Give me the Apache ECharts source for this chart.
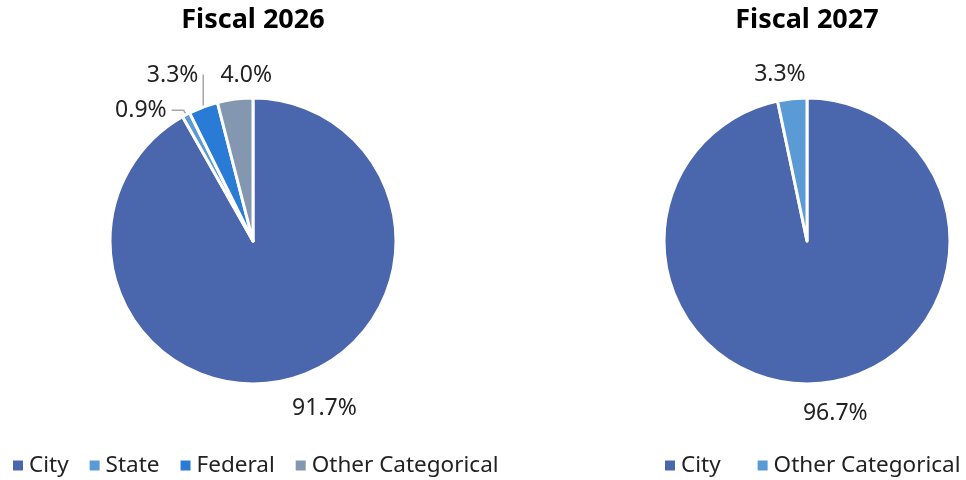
<!DOCTYPE html>
<html>
<head>
<meta charset="utf-8">
<script src="https://cdn.jsdelivr.net/npm/echarts@6/dist/echarts.min.js"></script>
<style>
  html, body { margin: 0; padding: 0; background: #fff; }
  #main { width: 966px; height: 480px; }
</style>
</head>
<body>
<div id="main"></div>
<script>
// data
var titles = ['Fiscal 2026', 'Fiscal 2027'];
var names2026 = ['City', 'State', 'Federal', 'Other Categorical'];
var values2026 = [91.7, 0.9, 3.3, 4.0];
var names2027 = ['City', 'Other Categorical'];
var values2027 = [96.7, 3.3];

var font = '"Noto Sans", sans-serif';
var colors2026 = ['#4a66ac', '#5b9bd5', '#2a7bd6', '#8497b0'];
var colors2027 = ['#4a66ac', '#5b9bd5'];
// label line tuning per slice: [length, length2, showLine]
var lines2026 = [[30, -10, false], [5, 12, true], [34, -12, true], [24, -45, false]];
var lines2027 = [[30, -27, false], [24, -21, false]];

function buildData(names, values, colors, lines){
	var out = [];
	for(var i=0;i<names.length;i++){
		out.push({
			name: names[i],
			value: values[i],
			itemStyle: { color: colors[i] },
			labelLine: {
				show: lines[i][2],
				length: lines[i][0],
				length2: lines[i][1]
			}
		});
	}
	return out;
}

function pieSeries(center, data){
	return {
		type: 'pie',
		center: center,
		radius: 143,
		startAngle: 90,
		clockwise: true,
		avoidLabelOverlap: false,
		animation: false,
		itemStyle: { borderColor: '#fff', borderWidth: 3 },
		label: {
			show: true,
			position: 'outside',
			formatter: function(p){ return p.value.toFixed(1) + '%'; },
			color: '#222',
			fontFamily: font,
			fontSize: 23
		},
		labelLine: {
			lineStyle: { color: '#a6a6a6', width: 1.5 },
			smooth: false
		},
		data: data
	};
}

function legendOf(left, gap, names, colors){
	return {
		left: left, top: 454, padding: 0,
		icon: 'rect', itemWidth: 12, itemHeight: 12, itemGap: gap,
		textStyle: { fontFamily: font, fontSize: 22.5, color: '#222' },
		data: names.map(function(n, i){ return { name: n, itemStyle: { color: colors[i] } }; })
	};
}

var option = {
	backgroundColor: '#fff',
	title: [
		{ text: titles[0], left: 248, top: 2, textAlign: 'center',
		  textStyle: { fontFamily: font, fontWeight: 'bold', fontSize: 27, color: '#000' } },
		{ text: titles[1], left: 802, top: 2, textAlign: 'center',
		  textStyle: { fontFamily: font, fontWeight: 'bold', fontSize: 27, color: '#000' } }
	],
	legend: [
		legendOf(11, 19, names2026, colors2026),
		legendOf(663, 35, names2027, colors2027)
	],
	series: [
		pieSeries([253, 241], buildData(names2026, values2026, colors2026, lines2026)),
		pieSeries([807, 241], buildData(names2027, values2027, colors2027, lines2027))
	]
};

var myChart = echarts.init(document.getElementById('main'));
myChart.setOption(option);
</script>
</body>
</html>
